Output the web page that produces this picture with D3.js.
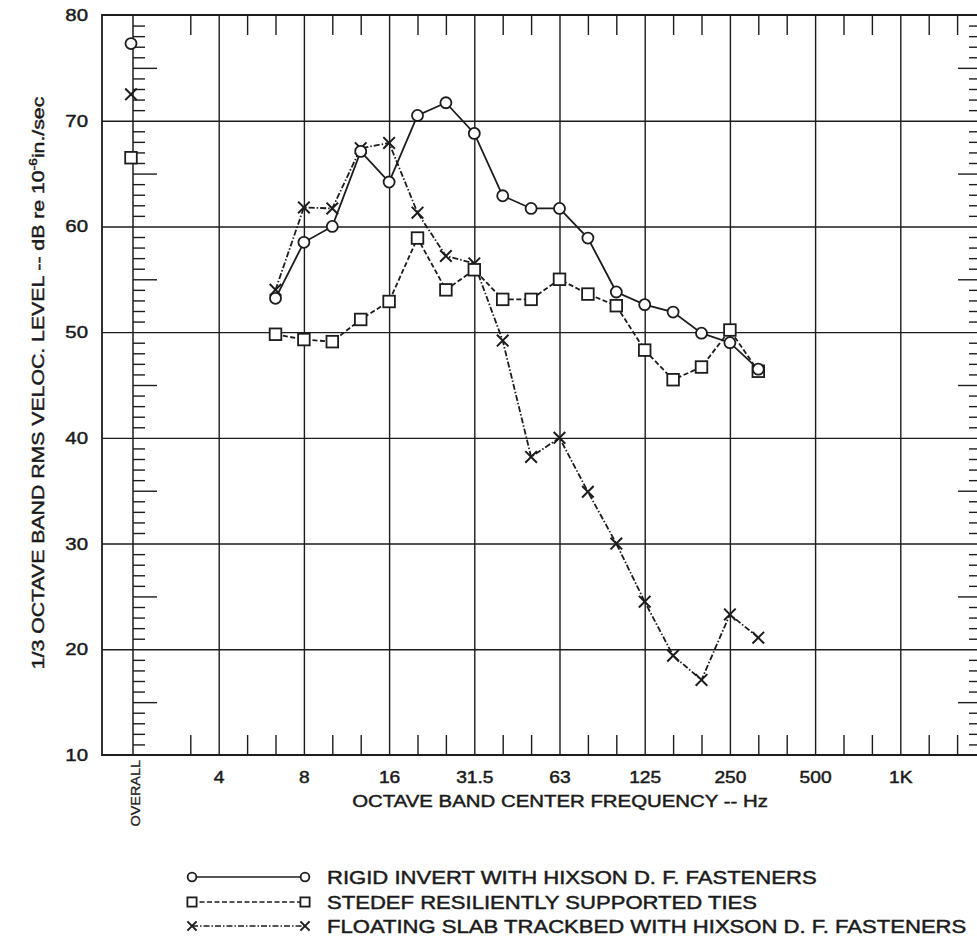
<!DOCTYPE html>
<html>
<head>
<meta charset="utf-8">
<script src="https://cdn.jsdelivr.net/npm/d3@7"></script>
<style>
  body { margin: 0; background: #fff; }
  svg { display: block; }
  text { font-family: "Liberation Sans", Arial, Helvetica, sans-serif; fill: #1a1a1a;
         stroke: #1a1a1a; stroke-width: 0.45px; }
</style>
</head>
<body>
<svg id="chart" width="977" height="944"></svg>
<script>
// 1/3-octave band slots along the frequency axis (OVERALL sits in the first slot)
const bands = ["OVERALL", "2.5", "3.15", "4", "5", "6.3", "8", "10", "12.5", "16", "20", "25",
  "31.5", "40", "50", "63", "80", "100", "125", "160", "200", "250", "315", "400", "500",
  "630", "800", "1K", "1.25K", "1.6K", "2K"];
const octaveBands = ["4", "8", "16", "31.5", "63", "125", "250", "500", "1K", "2K"];
const thirdOctaveTicks = ["3.15", "5", "6.3", "10", "12.5", "20", "25", "40", "50", "80", "100",
  "160", "200", "315", "400", "630", "800", "1.25K", "1.6K"];
const levelTicks = [10, 20, 30, 40, 50, 60, 70, 80];

// measured 1/3 octave band levels, dB re 1e-6 in./sec
const measuredBands = ["6.3", "8", "10", "12.5", "16", "20", "25", "31.5", "40", "50", "63",
  "80", "100", "125", "160", "200", "250", "315"];
const rigidInvert = [53.2, 58.5, 60.0, 67.1, 64.2, 70.5, 71.7, 68.8, 62.9, 61.7, 61.7,
  58.9, 53.8, 52.6, 51.9, 49.9, 49.0, 46.5];
const stedefTies = [49.8, 49.3, 49.1, 51.2, 52.9, 58.9, 54.0, 55.9, 53.1, 53.1, 55.0,
  53.6, 52.5, 48.3, 45.5, 46.7, 50.2, 46.3];
const floatingSlab = [54.0, 61.8, 61.7, 67.4, 67.9, 61.3, 57.2, 56.5, 49.2, 38.2, 40.0,
  34.9, 30.0, 24.5, 19.4, 17.1, 23.3, 21.1];
const overallLevels = [77.3, 66.5, 72.5];   // rigid, stedef, floating
const seriesNames = ["RIGID INVERT WITH HIXSON D. F. FASTENERS",
  "STEDEF RESILIENTLY SUPPORTED TIES",
  "FLOATING SLAB TRACKBED WITH HIXSON D. F. FASTENERS"];
const seriesMarkers = ["circle", "square", "cross"];
const seriesDash = [null, "5,2.5", "6,2,1.5,2"];

const series = [rigidInvert, stedefTies, floatingSlab].map((vals, i) => ({
  name: seriesNames[i],
  marker: seriesMarkers[i],
  dash: seriesDash[i],
  points: vals.map((v, j) => ({ band: measuredBands[j], v })),
  overall: overallLevels[i]
}));

const svg = d3.select("#chart");
const INK = "#1c1c1c";
const plotLeft = 102, plotTop = 15, plotBottom = 755, plotRight = 982;

const x = d3.scalePoint().domain(bands).range([133.5, 985.5]);
const y = d3.scaleLinear().domain([10, 80]).range([plotBottom, plotTop]);

function clean(g) { g.select(".domain").remove(); g.selectAll("line").attr("stroke", INK); }

// grid
svg.append("g").attr("transform", `translate(0,${plotBottom})`)
  .call(d3.axisBottom(x).tickValues(octaveBands).tickSize(-(plotBottom - plotTop)).tickFormat(""))
  .call(clean).selectAll("line").attr("stroke-width", 1.4);
svg.append("g").attr("transform", `translate(${plotLeft},0)`)
  .call(d3.axisLeft(y).tickValues([20, 30, 40, 50, 60, 70]).tickSize(-(plotRight - plotLeft)).tickFormat(""))
  .call(clean).selectAll("line").attr("stroke-width", 1.4);

// frame
svg.append("path")
  .attr("d", `M${plotRight},${plotTop}H${plotLeft}V${plotBottom}H${plotRight}`)
  .attr("fill", "none").attr("stroke", INK).attr("stroke-width", 1.8);

// OVERALL column rule with 1 dB ticks
const xo = x("OVERALL") - 0.5;
svg.append("line").attr("x1", xo).attr("x2", xo).attr("y1", plotTop).attr("y2", plotBottom)
  .attr("stroke", INK).attr("stroke-width", 1.5);
const oneDb = d3.range(11, 80).filter(v => v % 5 !== 0);
const fiveDb = d3.range(15, 80, 10);
svg.append("g").attr("transform", `translate(${xo},0)`)
  .call(d3.axisRight(y).tickValues(oneDb).tickSize(12).tickFormat("")).call(clean)
  .selectAll("line").attr("stroke-width", 1.4);
svg.append("g").attr("transform", `translate(${xo},0)`)
  .call(d3.axisRight(y).tickValues(fiveDb).tickSize(24).tickFormat("")).call(clean)
  .selectAll("line").attr("stroke-width", 1.4);

// right edge ticks
svg.append("g").attr("transform", `translate(${plotRight},0)`)
  .call(d3.axisLeft(y).tickValues(oneDb).tickSize(13).tickFormat("")).call(clean)
  .selectAll("line").attr("stroke-width", 1.4);
svg.append("g").attr("transform", `translate(${plotRight},0)`)
  .call(d3.axisLeft(y).tickValues(fiveDb).tickSize(24).tickFormat("")).call(clean)
  .selectAll("line").attr("stroke-width", 1.4);

// 1/3 octave ticks on top and bottom edges
svg.append("g").attr("transform", `translate(0,${plotTop})`)
  .call(d3.axisBottom(x).tickValues(thirdOctaveTicks).tickSize(20).tickFormat("")).call(clean)
  .selectAll("line").attr("stroke-width", 1.4);
svg.append("g").attr("transform", `translate(0,${plotBottom})`)
  .call(d3.axisTop(x).tickValues(thirdOctaveTicks).tickSize(20).tickFormat("")).call(clean)
  .selectAll("line").attr("stroke-width", 1.4);

// level labels
const yl = svg.append("g").attr("transform", `translate(${plotLeft - 2},0)`)
  .call(d3.axisLeft(y).tickValues(levelTicks).tickSize(0).tickPadding(10));
yl.select(".domain").remove();
yl.selectAll("text").attr("font-size", 17).attr("fill", INK)
  .attr("font-family", '"Liberation Sans", Arial, sans-serif')
  .attr("transform", "scale(1.2,1)");

// frequency labels
const xl = svg.append("g").attr("transform", `translate(0,${plotBottom})`)
  .call(d3.axisBottom(x).tickValues(octaveBands.slice(0, -1)).tickSize(0).tickPadding(17));
xl.select(".domain").remove();
xl.selectAll("text").attr("font-size", 16).attr("fill", INK)
  .attr("font-family", '"Liberation Sans", Arial, sans-serif')
  .attr("transform", "scale(1.2,1)");

svg.append("text")
  .attr("transform", `translate(${x("OVERALL") + 6},760) rotate(-90) scale(1.2,1)`)
  .attr("text-anchor", "end").attr("font-size", 12).style("stroke-width", "0.3px")
  .text("OVERALL");

// axis titles
svg.append("text")
  .attr("transform", `translate(560,807) scale(1.2,1)`)
  .attr("text-anchor", "middle").attr("font-size", 17)
  .text("OCTAVE BAND CENTER FREQUENCY -- Hz");

const yt = svg.append("text")
  .attr("transform", `translate(44,383) rotate(-90) scale(1.25,1)`)
  .attr("text-anchor", "middle").attr("font-size", 17);
yt.append("tspan").text("1/3 OCTAVE BAND RMS VELOC. LEVEL -- dB re 10");
yt.append("tspan").attr("font-size", 11).attr("dy", -7).text("-6");
yt.append("tspan").attr("dy", 7).text("in./sec");

// markers
function drawMarker(g, type, cx, cy, s) {
  if (type === "circle") {
    g.append("circle").attr("cx", cx).attr("cy", cy).attr("r", s * 0.95)
      .attr("fill", "#fff").attr("stroke", INK).attr("stroke-width", 1.8);
  } else if (type === "square") {
    g.append("rect").attr("x", cx - s).attr("y", cy - s).attr("width", 2 * s).attr("height", 2 * s)
      .attr("fill", "#fff").attr("stroke", INK).attr("stroke-width", 1.8);
  } else {
    g.append("path").attr("d", `M${cx - s},${cy - s}L${cx + s},${cy + s}M${cx - s},${cy + s}L${cx + s},${cy - s}`)
      .attr("stroke", INK).attr("stroke-width", 2).attr("fill", "none");
  }
}

const line = d3.line().x(d => x(d.band)).y(d => y(d.v));
const plot = svg.append("g");
series.forEach(s => {
  plot.append("path").datum(s.points).attr("d", line)
    .attr("fill", "none").attr("stroke", INK).attr("stroke-width", 1.8)
    .attr("stroke-dasharray", s.dash);
});
// crosses first, open markers on top
[2, 1, 0].forEach(i => {
  const s = series[i];
  const g = plot.append("g");
  s.points.forEach(p => drawMarker(g, s.marker, x(p.band), y(p.v), 5.8));
  drawMarker(g, s.marker, x("OVERALL") - 2.5, y(s.overall), 5.8);
});

// legend
const legendY = [877, 902, 926];
const lg = svg.append("g");
series.forEach((s, i) => {
  const ly = legendY[i];
  lg.append("line").attr("x1", 192).attr("x2", 305).attr("y1", ly).attr("y2", ly)
    .attr("stroke", INK).attr("stroke-width", 1.6).attr("stroke-dasharray", s.dash);
  drawMarker(lg, s.marker, 192, ly, 4.6);
  drawMarker(lg, s.marker, 305, ly, 4.6);
  lg.append("text").attr("transform", `translate(327,${ly + 6.6}) scale(1.2,1)`)
    .attr("font-size", 18.4).text(s.name);
});
</script>
</body>
</html>
